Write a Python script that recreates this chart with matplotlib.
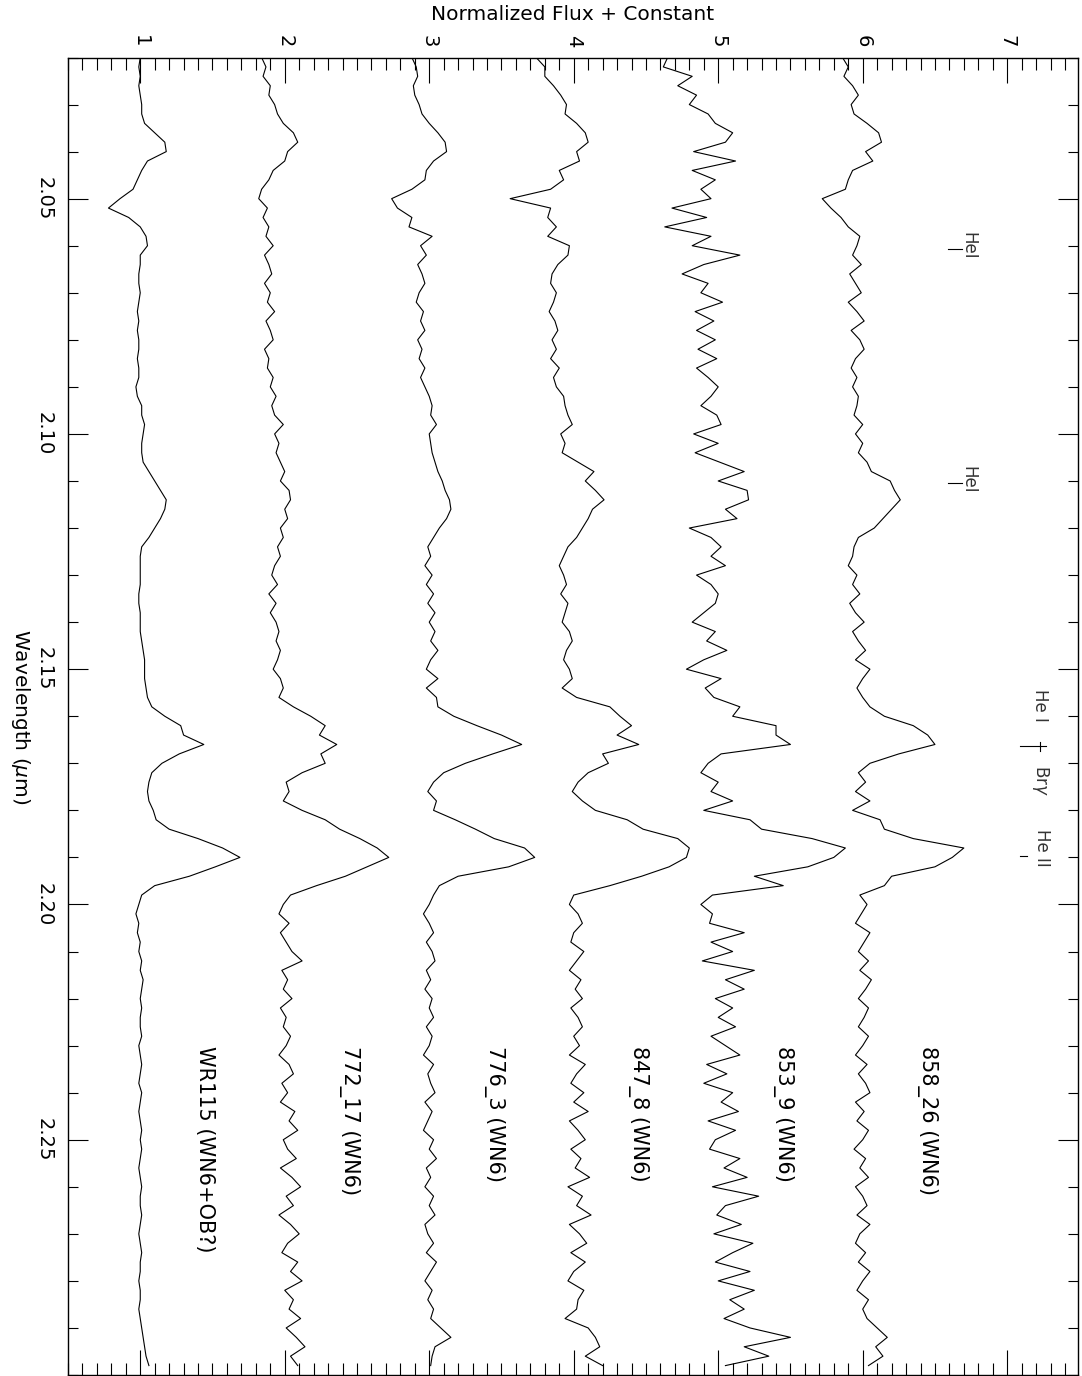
import numpy as np
import matplotlib
matplotlib.use("Agg")
import matplotlib.pyplot as plt
from matplotlib.ticker import MultipleLocator

# Normalized spectra + constant offsets, sampled every 0.002 micron from 2.020
wr115 = [1.00, 0.99, 1.00, 0.99, 1.00, 1.01, 1.01, 1.03, 1.10, 1.17, 1.18, 1.05, 1.01, 0.98, 0.95,
         0.86, 0.78, 0.92, 1.00, 1.04, 1.05, 1.00, 1.00, 0.99, 0.99, 1.00, 0.99, 0.98, 0.99, 0.98,
         0.99, 0.99, 0.98, 0.99, 0.99,
         0.97, 0.98, 1.01, 1.01, 1.03, 1.02, 1.01, 1.01, 1.02, 1.06, 1.10, 1.14, 1.18, 1.17, 1.14,
         1.10, 1.06, 1.01, 1.00, 1.00, 1.00, 1.00, 0.99, 0.99, 1.00, 1.00, 1.00, 1.01, 1.02, 1.03,
         1.03, 1.03, 1.04, 1.05,
         1.08, 1.17, 1.28, 1.30, 1.44, 1.27, 1.15, 1.08, 1.06, 1.05, 1.06, 1.09, 1.11, 1.20, 1.40,
         1.57, 1.69, 1.52, 1.34, 1.10, 1.01, 0.99, 0.97, 0.99, 0.98, 1.00, 0.99, 1.01, 1.00, 1.02,
         1.01, 1.00, 1.01, 1.00,
         1.00, 1.01, 0.99, 1.00, 1.01, 1.00, 0.99, 1.01, 1.00, 0.99, 1.00, 1.01, 1.00, 1.01, 1.00,
         0.99, 1.00, 1.01, 1.00, 1.00, 1.01, 1.00, 0.99, 1.00, 1.01, 1.00, 1.00, 0.99, 1.00, 1.00,
         0.99, 1.00, 1.01, 1.02, 1.03, 1.04, 1.06]

s772_17 = [1.84, 1.87, 1.85, 1.90, 1.89, 1.93, 1.95, 1.99, 2.06, 2.09, 2.02, 2.00, 1.92, 1.89, 1.84,
           1.82, 1.88, 1.85, 1.89, 1.87, 1.92, 1.86, 1.89, 1.91, 1.86, 1.90, 1.88, 1.93, 1.87, 1.90,
           1.92, 1.86, 1.89, 1.88, 1.92,
           1.90, 1.94, 1.91, 1.93, 1.99, 1.93, 1.96, 1.94, 1.97, 2.00, 1.97, 2.03, 2.04, 2.00, 2.02,
           1.97, 1.99, 1.95, 1.97, 1.93, 1.91, 1.95, 1.89, 1.94, 1.90, 1.94, 1.96, 1.94, 1.97, 1.95,
           1.92, 1.97, 1.99, 1.96,
           2.06, 2.18, 2.28, 2.24, 2.36, 2.25, 2.28, 2.12, 2.01, 2.03, 1.99, 2.12, 2.28, 2.38, 2.52,
           2.64, 2.72, 2.57, 2.42, 2.22, 2.04, 1.99, 1.96, 2.03, 1.97, 2.01, 2.05, 2.12, 1.98, 2.02,
           1.99, 2.05, 1.97, 2.01,
           1.99, 2.04, 2.01, 1.96, 2.03, 2.06, 1.98, 2.02, 1.97, 2.07, 2.03, 2.09, 1.99, 2.02, 2.08,
           1.97, 2.05, 2.11, 2.01, 2.06, 1.96, 2.04, 2.10, 2.02, 1.98, 2.09, 2.04, 2.12, 2.00, 2.06,
           2.03, 2.11, 2.01, 2.08, 2.14, 2.04, 2.09]

s776_3 = [2.88, 2.91, 2.92, 2.89, 2.90, 2.93, 2.95, 3.00, 3.06, 3.11, 3.12, 3.03, 2.98, 2.97, 2.88,
          2.74, 2.78, 2.88, 2.86, 3.02, 2.94, 2.98, 2.92, 2.95, 2.97, 2.93, 2.91, 2.96, 2.94, 2.97,
          2.92, 2.95, 2.93, 2.97, 2.94,
          2.97, 3.00, 3.02, 3.01, 3.05, 3.00, 3.01, 3.02, 3.04, 3.06, 3.09, 3.11, 3.14, 3.15, 3.12,
          3.07, 3.03, 2.99, 3.01, 2.97, 3.02, 2.98, 3.03, 2.99, 3.04, 3.00, 3.04, 3.01, 3.06, 3.01,
          2.98, 3.06, 2.98, 3.05,
          3.06, 3.17, 3.33, 3.50, 3.64, 3.44, 3.25, 3.10, 3.03, 2.99, 3.05, 3.03, 3.18, 3.32, 3.45,
          3.66, 3.73, 3.55, 3.20, 3.07, 3.03, 3.00, 2.96, 3.00, 3.03, 2.98, 3.02, 3.04, 2.98, 3.01,
          2.97, 3.02, 3.00, 3.03,
          2.98, 3.02, 3.00, 2.96, 3.03, 2.99, 3.01, 3.04, 2.97, 3.02, 2.99, 2.96, 3.03, 3.00, 3.05,
          2.98, 3.01, 2.97, 3.03, 3.00, 3.04, 2.97, 2.99, 3.03, 2.98, 3.05, 3.01, 2.97, 3.02, 2.99,
          3.03, 3.01, 3.08, 3.15, 3.04, 3.02, 3.01]

s847_8 = [3.74, 3.80, 3.80, 3.86, 3.91, 3.95, 3.94, 4.02, 4.08, 4.10, 4.02, 4.04, 3.90, 3.93, 3.84,
          3.56, 3.84, 3.82, 3.88, 3.82, 3.97, 3.96, 3.89, 3.85, 3.84, 3.88, 3.86, 3.83, 3.87, 3.89,
          3.85, 3.88, 3.84, 3.90, 3.86,
          3.88, 3.93, 3.94, 3.96, 3.99, 3.91, 3.94, 3.92, 4.03, 4.14, 4.08, 4.15, 4.21, 4.13, 4.10,
          4.06, 4.02, 3.96, 3.93, 3.90, 3.93, 3.95, 3.91, 3.96, 3.94, 3.92, 3.97, 3.99, 3.95, 3.93,
          3.97, 3.99, 3.92, 4.02,
          4.25, 4.32, 4.40, 4.30, 4.45, 4.20, 4.24, 4.10, 4.03, 3.99, 4.06, 4.15, 4.37, 4.48, 4.72,
          4.80, 4.78, 4.66, 4.47, 4.25, 4.00, 3.97, 4.03, 4.06, 4.00, 3.98, 4.07, 4.02, 3.97, 4.05,
          4.01, 4.06, 3.98, 4.03,
          4.06, 4.00, 4.04, 3.97, 4.08, 4.02, 3.98, 4.07, 4.00, 4.10, 3.97, 4.03, 4.08, 3.98, 4.05,
          4.01, 4.11, 3.96, 4.06, 4.02, 4.12, 3.97, 4.04, 4.09, 3.98, 4.08, 4.00, 3.96, 4.07, 4.03,
          4.02, 3.94, 4.10, 4.15, 4.18, 4.08, 4.20]

s853_9 = [4.65, 4.62, 4.82, 4.72, 4.85, 4.80, 4.93, 4.98, 5.10, 5.05, 4.83, 5.12, 4.82, 4.98, 4.88,
          4.95, 4.68, 4.92, 4.63, 4.95, 4.82, 5.15, 4.90, 4.75, 4.93, 4.88, 5.03, 4.84, 4.97, 4.85,
          4.98, 4.86, 4.99, 4.85, 4.93,
          5.00, 4.95, 4.88, 4.99, 5.02, 4.83, 5.00, 4.84, 5.01, 5.18, 5.00, 5.20, 5.21, 5.05, 5.13,
          4.80, 4.95, 5.02, 4.95, 5.05, 4.85, 4.95, 5.00, 4.98, 4.90, 4.82, 4.98, 4.92, 5.06, 4.90,
          4.78, 5.02, 4.91, 4.97,
          5.15, 5.10, 5.40, 5.40, 5.50, 5.02, 4.93, 4.88, 5.00, 4.95, 5.10, 4.90, 5.22, 5.30, 5.65,
          5.88, 5.80, 5.62, 5.25, 5.45, 4.96, 4.88, 4.96, 4.94, 5.18, 4.95, 5.10, 4.89, 5.25, 5.05,
          5.18, 4.98, 5.10, 5.00,
          5.12, 4.95, 5.05, 5.15, 4.92, 5.06, 4.90, 5.10, 5.02, 5.14, 4.93, 5.12, 4.98, 4.94, 5.15,
          5.04, 5.20, 4.96, 5.28, 5.05, 4.99, 5.16, 4.97, 5.24, 5.10, 4.98, 5.22, 5.00, 5.25, 5.08,
          5.18, 5.04, 5.22, 5.50, 5.18, 5.35, 5.05]

s858_26 = [5.86, 5.90, 5.87, 5.93, 5.97, 5.92, 5.94, 6.03, 6.11, 6.13, 6.02, 6.07, 5.93, 5.90, 5.88,
           5.72, 5.78, 5.85, 5.90, 5.98, 5.96, 5.93, 5.99, 5.91, 5.95, 5.99, 5.90, 5.96, 6.01, 5.92,
           5.98, 6.01, 5.95, 5.92, 5.96,
           5.93, 5.97, 5.96, 5.94, 6.00, 5.95, 6.00, 5.97, 6.03, 6.06, 6.19, 6.22, 6.26, 6.20, 6.14,
           6.08, 5.97, 5.94, 5.93, 5.90, 5.96, 5.93, 5.98, 5.91, 5.95, 6.01, 5.93, 5.97, 6.02, 5.95,
           6.05, 6.00, 5.96, 6.00,
           6.05, 6.15, 6.35, 6.45, 6.50, 6.25, 6.05, 5.97, 6.02, 5.95, 6.05, 5.93, 6.12, 6.15, 6.35,
           6.70, 6.62, 6.50, 6.20, 6.15, 5.98, 6.03, 5.99, 5.95, 6.05, 6.01, 5.97, 6.04, 5.98, 6.06,
           6.02, 5.97, 6.04, 6.01,
           5.97, 6.04, 6.00, 5.95, 6.03, 5.97, 6.02, 6.05, 5.95, 6.01, 5.96, 6.04, 6.00, 5.94, 6.02,
           5.98, 6.04, 5.95, 6.00, 6.03, 5.96, 6.05, 5.98, 5.95, 6.02, 5.97, 6.05, 6.00, 5.96, 6.04,
           6.00, 6.03, 6.10, 6.17, 6.09, 6.14, 6.04]

spectra = [wr115, s772_17, s776_3, s847_8, s853_9, s858_26]
names = ['WR115 (WN6+OB?)', '772_17 (WN6)', '776_3 (WN6)',
         '847_8 (WN6)', '853_9 (WN6)', '858_26 (WN6)']
offsets = [1, 2, 3, 4, 5, 6]

# He I line positions marked near the top of the plot
hei_lines = [2.0600, 2.1098]

fig = plt.figure(figsize=(10.82, 13.76), dpi=100)
ax = fig.add_axes([68 / 1082, 1 / 1376, 1010 / 1082, 1317.5 / 1376])

for flux in spectra:
    n = len(flux)
    wave = np.linspace(2.020, 2.020 + 0.002 * (n - 1), n)
    ax.plot(flux, wave, color='black', lw=0.8)

ax.set_xlim(0.5, 7.49)
ax.set_ylim(2.30, 2.02)

# star labels
for name, off in zip(names, offsets):
    ax.text(off + 0.45, 2.230, name, rotation=-90, ha='center', va='top', fontsize=15)

# He I markers near top
for lam in hei_lines:
    ax.plot([6.59, 6.69], [lam + 0.0007, lam + 0.0007], color='black', lw=0.8)
    ax.text(6.73, lam, 'HeI', rotation=-90, ha='center', va='center', fontsize=12, color='#333333')

# He I + Br gamma, He II
ax.text(7.23, 2.1578, 'He I', rotation=-90, ha='center', va='center', fontsize=12, color='#333333')
ax.plot([7.086, 7.27], [2.1663, 2.1663], color='black', lw=0.8)
ax.plot([7.23, 7.23], [2.1655, 2.1673], color='black', lw=0.8)
ax.text(7.23, 2.1736, r'Br$\gamma$', rotation=-90, ha='center', va='center', fontsize=12, color='#333333')
ax.text(7.24, 2.1880, 'He II', rotation=-90, ha='center', va='center', fontsize=12, color='#333333')
ax.plot([7.086, 7.14], [2.1897, 2.1897], color='black', lw=0.8)

# axes / ticks in IDL style
ax.set_xticks([1, 2, 3, 4, 5, 6, 7])
ax.set_xticklabels(['1', '2', '3', '4', '5', '6', '7'], rotation=-90, fontsize=14)
ax.xaxis.set_minor_locator(MultipleLocator(0.1))
ax.set_yticks([2.05, 2.10, 2.15, 2.20, 2.25])
ax.set_yticklabels(['2.05', '2.10', '2.15', '2.20', '2.25'], rotation=-90, fontsize=14, va='center')
ax.yaxis.set_minor_locator(MultipleLocator(0.01))

ax.tick_params(axis='x', which='both', direction='in', top=True, bottom=True,
               labeltop=True, labelbottom=False, width=0.8, pad=7)
ax.tick_params(axis='x', which='major', length=18)
ax.tick_params(axis='x', which='minor', length=8.6)
ax.tick_params(axis='y', which='both', direction='in', left=True, right=True,
               labelleft=True, labelright=False, width=0.8, pad=10)
ax.tick_params(axis='y', which='major', length=14.4)
ax.tick_params(axis='y', which='minor', length=7.2)
for sp in ax.spines.values():
    sp.set_linewidth(1.0)

ax.text(0.5, 1.0326, 'Normalized Flux + Constant', transform=ax.transAxes,
        ha='center', va='center', fontsize=14.5)
ax.text(-0.0475, 0.5, r'Wavelength ($\mu$m)', transform=ax.transAxes, rotation=-90,
        ha='center', va='center', fontsize=14.5)

fig.savefig('out.png', dpi=100)
